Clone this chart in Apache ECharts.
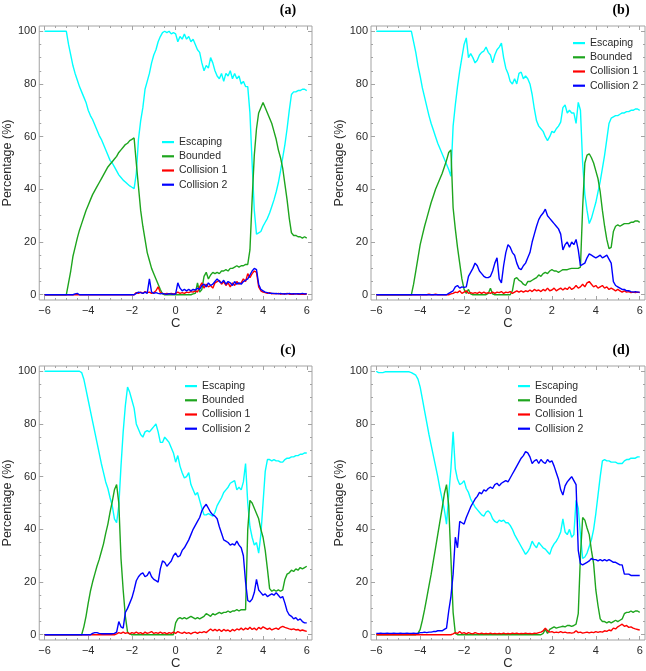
<!DOCTYPE html>
<html>
<head>
<meta charset="utf-8">
<title>Percentage vs C</title>
<script src="https://cdn.jsdelivr.net/npm/echarts@6.0.0/dist/echarts.min.js"></script>
<style>
html, body { margin: 0; padding: 0; background: #fff; }
#chart { width: 646px; height: 671px; }
</style>
</head>
<body>
<div id="chart"></div>
<script>
// sampling grid in C: -6.0 ... 6.0, step 0.1
const C = Array.from({ length: 121 }, (_, i) => Math.round((-6 + i * 0.1) * 10) / 10);

const seriesNames = ['Escaping', 'Bounded', 'Collision 1', 'Collision 2'];
const xMajor = [-6, -4, -2, 0, 2, 4, 6];
const xMinor = [-5.5, -5, -4.5, -3.5, -3, -2.5, -1.5, -1, -0.5, 0.5, 1, 1.5, 2.5, 3, 3.5, 4.5, 5, 5.5];
const yMajor = [0, 20, 40, 60, 80, 100];
const yMinor = [5, 10, 15, 25, 30, 35, 45, 50, 55, 65, 70, 75, 85, 90, 95];

// ---- panel (a)
const escA = [
  100, 100, 100, 100, 100, 100, 100, 100, 100, 100,
  100, 95, 91, 87, 84, 81.5, 79, 77, 75, 73,
  70, 68, 66.5, 64.5, 62.5, 60.5, 59, 57, 55, 53,
  51, 50, 48.5, 47, 45.5, 44.5, 43.5, 42.8, 42, 41.3,
  40.8, 40.3, 46, 59, 66, 71, 78, 81, 84, 88,
  91, 93, 96, 98, 99.5, 100, 99.5, 100, 99, 99.5,
  99, 96, 98, 97, 99, 97, 98, 96, 97, 95,
  93, 92, 88, 85, 87, 86, 90, 88, 85, 83,
  82, 84, 81, 84, 83, 85, 82, 84, 82, 83,
  80, 81, 79, 79, 69, 50, 32, 23, 23.5, 24,
  26, 27.5, 29, 31, 33.5, 36, 39, 42.5, 47, 52,
  57, 63, 70, 76, 77, 77, 77.5, 77.5, 78, 78,
  77.5
];
const bndA = [
  0, 0, 0, 0, 0, 0, 0, 0, 0, 0,
  0, 4.5, 9, 14.5, 18, 21.5, 24.5, 27, 29.5, 32,
  34, 36, 38, 39.5, 41, 42.5, 44, 45.5, 47, 48.5,
  49.5, 50.5, 51.5, 52.5, 54, 55, 56, 57, 57.5, 58.5,
  59, 59.5, 50, 41, 32, 26, 21, 16, 13, 10,
  8, 6, 4, 2, 0.3, 0, 0, 0, 0, 0,
  0, 0, 0, 0, 0, 0, 0, 0, 0.3, 0.5,
  4.5, 1, 2, 7, 8.5, 6, 7.5, 8.5, 8, 8.5,
  8, 9, 9, 9.5, 9, 10, 10, 10.5, 11, 10.5,
  11, 11, 11.5, 11.5, 17, 36, 53, 63, 69, 71,
  73, 71, 69, 67, 65, 62, 59, 55, 52, 48,
  42, 36, 29, 23.5, 22.5, 22.5, 22, 22, 21.5, 22,
  21.5
];
const col1A = [
  0, 0, 0, 0, 0, 0, 0, 0, 0, 0,
  0, 0, 0, 0, 0, 0, 0, 0, 0, 0,
  0, 0, 0, 0, 0, 0, 0, 0, 0, 0,
  0, 0, 0, 0, 0, 0, 0, 0, 0, 0,
  0, 0, 0.8, 0.5, 1, 0.5, 1.2, 0.8, 1, 0.5,
  0.8, 1.5, 3, 0.8, 0.5, 0.3, 0.5, 0.3, 0.5, 0.3,
  0.5, 1, 0.5, 0.8, 0.5, 1, 0.8, 1.2, 1, 1.5,
  1, 3, 4.5, 2.5, 4, 3, 3.5, 2.5, 4.5, 5,
  5.5, 4, 5, 3.5, 4.5, 3, 4.5, 3.5, 5, 4,
  4.5, 6, 5, 8, 6.5, 8, 9, 8.5, 3, 1.5,
  1, 0.8, 0.5, 0.8, 0.3, 0.5, 0.3, 0.5, 0.2, 0.4,
  0.2, 0.5, 0.2, 0.3, 0.2, 0.4, 0.2, 0.3, 0.2, 0.3,
  0.2
];
const col2A = [
  0, 0, 0, 0, 0, 0, 0, 0, 0, 0,
  0, 0, 0, 0, 0.3, 0.5, 0, 0, 0, 0,
  0, 0, 0, 0, 0, 0, 0, 0, 0, 0,
  0, 0, 0, 0, 0, 0, 0, 0, 0, 0,
  0, 0, 0.5, 1, 0.8, 0.5, 1, 0.5, 6, 1,
  0.5, 0.8, 0.5, 0.3, 0.5, 0.3, 0.2, 0.4, 0.3, 0.2,
  0.3, 4.5, 2.5, 1.5, 2, 1.5, 2, 1.5, 2, 1.8,
  2.5, 2, 3.5, 4, 3, 4.5, 3.5, 4, 5, 6,
  5, 4.5, 5.5, 4, 5, 4.5, 3.5, 5, 4, 4.5,
  4, 5, 5.5, 6, 7.5, 9, 10, 9.5, 4, 2,
  1.5, 1, 0.8, 0.5, 0.6, 0.4, 0.5, 0.3, 0.5, 0.3,
  0.4, 0.3, 0.5, 0.3, 0.4, 0.3, 0.4, 0.3, 0.5, 0.3,
  0.4
];

// ---- panel (b)
const escB = [
  100, 100, 100, 100, 100, 100, 100, 100, 100, 100,
  100, 100, 100, 100, 100, 100, 100, 96, 92, 87,
  83, 78.5, 75, 71.5, 68, 65, 62.5, 60, 57.5, 55.5,
  53.5, 51.5, 49.5, 47.5, 45, 64, 72, 79, 85, 90,
  95, 97.5, 90, 91.5, 90, 88, 89, 91, 92, 92.5,
  94, 92, 91, 88, 91, 93, 94, 95.5, 90, 86,
  84, 81, 80, 82, 80, 84, 84.5, 82, 83, 82,
  80, 76, 70.5, 66, 64, 63, 62, 60, 58.5, 60,
  62, 61.5, 63, 64, 65.5, 71, 72, 69, 70, 69,
  69, 65, 73, 70, 50, 38, 32, 27, 29, 32,
  35, 39, 43, 48, 53, 59, 65, 67, 67.5, 68,
  68, 68.5, 69, 69, 69.5, 69.5, 70, 70, 70.5, 70.5,
  70
];
const bndB = [
  0, 0, 0, 0, 0, 0, 0, 0, 0, 0,
  0, 0, 0, 0, 0, 0, 0, 4, 9, 14,
  19, 22.5, 26, 29, 32, 35, 37.5, 40, 42, 44,
  46, 48.5, 51, 54, 55, 33, 25, 18, 12, 6,
  2, 0.5, 2, 0.3, 0, 0, 0, 0, 0, 0,
  0, 0.5, 2.5, 0.3, 0, 0, 0, 0, 0, 0,
  0, 0, 1.5, 6, 6.5, 5.5, 5, 4, 3.5, 5,
  5, 5.5, 6, 6.5, 7.5, 7, 8, 8.5, 8, 9,
  9.5, 9, 9, 8.5, 9, 9.5, 9.5, 9.5, 9.8, 10,
  10, 10, 10, 10.5, 33, 50, 53, 53.5, 52, 50,
  47, 44, 39, 32, 26, 21, 17.5, 18, 24, 26,
  26.5, 26, 26.5, 27, 27, 27, 27.5, 27.5, 28, 28,
  27.5
];
const col1B = [
  0, 0, 0, 0, 0, 0, 0, 0, 0, 0,
  0, 0, 0, 0, 0, 0, 0, 0, 0, 0,
  0, 0, 0, 0, 0.2, 0, 0, 0.2, 0, 0,
  0, 0, 0, 0, 0.3, 0.5, 1, 0.8, 1.5, 0.5,
  1, 1.5, 0.5, 0.8, 0.5, 0.8, 0.5, 1, 0.5, 1,
  0.5, 0.8, 0.5, 1, 0.5, 1, 0.8, 1.2, 0.5, 1,
  0.8, 1.2, 0.5, 1, 1.5, 1, 1.5, 1, 1.5, 1.2,
  1.8, 1.2, 2, 1.5, 1.8, 1.2, 2, 1.5, 2.5, 1.5,
  1.8, 2.5, 1.5, 2, 2.5, 1.8, 2.5, 2, 3, 2,
  2.5, 3.5, 2.5, 3, 4, 3, 4.5, 5, 4, 3,
  3.5, 2.5, 3, 3.5, 2.5, 3, 2, 2.5, 2, 1.5,
  2, 1.5, 1, 1.5, 1, 1.2, 0.8, 1, 0.8, 1,
  0.8
];
const col2B = [
  0, 0, 0, 0, 0, 0, 0, 0, 0, 0,
  0, 0, 0, 0, 0, 0, 0, 0, 0, 0,
  0, 0, 0, 0, 0, 0, 0, 0, 0, 0,
  0, 0, 0, 0.5, 1, 1.5, 3, 3.5, 2.5, 3,
  2.8, 3, 7, 8.5, 10, 12, 11, 9, 8, 7,
  6.5, 6.5, 7, 9, 12, 14, 6, 4.5, 11, 16,
  19, 18, 16, 15, 12, 10, 9.5, 11, 12, 14,
  16, 20, 23, 26, 28.5, 30, 31, 32.5, 30, 29,
  28, 27, 26, 25, 23, 17, 19, 20, 18, 20,
  19, 21, 17, 11, 11.5, 12, 14, 15.5, 15, 14.5,
  14, 14.5, 15, 14, 14.5, 15, 13.5, 12, 5, 3.5,
  3, 2.5, 2, 2, 1.5, 1.5, 1.2, 1, 1.2, 1,
  1
];

// ---- panel (c)
const escC = [
  100, 100, 100, 100, 100, 100, 100, 100, 100, 100,
  100, 100, 100, 100, 100, 100, 100, 99.5, 97, 93,
  89, 85, 81, 77, 73, 69, 65, 61.5, 58, 55.5,
  52, 49, 44, 42.5, 49, 64, 77, 87, 94, 92,
  89, 86, 80, 78, 76, 75, 77, 77.5, 77, 78,
  79, 80, 77, 73, 73, 75, 74, 73, 71, 69,
  65.5, 68, 64, 61.5, 59.5, 60, 61.5, 57, 55, 53,
  54, 51, 48, 45.5, 45.5, 46, 45.5, 45, 46.5, 49,
  50.5, 52, 54, 55, 56, 57.5, 58, 58.5, 55, 56,
  55, 58, 65, 50, 41, 37, 34, 35, 31, 38,
  50, 62, 66.5, 66.5, 66, 66.5, 66, 66, 65.5, 65.5,
  66.5, 67, 67, 67.5, 67.5, 68, 68, 68.5, 68.5, 69,
  69
];
const bndC = [
  0, 0, 0, 0, 0, 0, 0, 0, 0, 0,
  0, 0, 0, 0, 0, 0, 0, 0, 3, 7,
  12, 16.5, 20, 23, 26, 28.5, 31.5, 34.5, 38.5, 42,
  46.5, 50.5, 55, 57, 50, 29, 17, 7, 1, 0.3,
  0, 0, 0, 0, 0, 0, 0, 0, 0, 0,
  0, 0, 0, 0, 0, 0, 0, 0, 0, 0,
  4.5, 6, 6.5, 6, 6.5, 6, 6.5, 7, 6.5, 6,
  6.5, 6, 6.5, 7, 8, 7.5, 7, 8, 7.5, 8,
  8.5, 8, 8.5, 8.5, 9, 8.5, 9, 9, 9.5, 9,
  9.5, 9.5, 9.5, 40, 51, 50, 48, 46, 44, 40,
  37, 32, 25, 17.5, 16.5, 17, 16.5, 17, 16.5, 17,
  21, 23, 23.5, 24.5, 24, 25, 24.5, 25.5, 25, 25.5,
  26
];
const col1C = [
  0, 0, 0, 0, 0, 0, 0, 0, 0, 0,
  0, 0, 0, 0, 0, 0, 0, 0, 0, 0,
  0, 0, 0, 0, 0, 0, 0, 0, 0, 0,
  0, 0, 0, 0.3, 0.8, 0.5, 1, 0.5, 0.8, 0.3,
  0.8, 0.5, 1, 0.5, 0.8, 0.3, 1, 0.5, 0.8, 1.2,
  0.5, 0.8, 0.5, 1, 0.5, 0.8, 0.3, 0.8, 0.5, 1,
  0.5, 1.2, 0.8, 0.5, 1, 0.5, 0.8, 0.3, 0.8, 1,
  0.5, 1, 0.8, 1.2, 0.8, 1.5, 2.2, 1.5, 2, 1.5,
  2, 1.2, 2, 1.5, 1.8, 1.2, 2, 1.5, 2.2, 1.8,
  2.5, 1.8, 2.5, 2, 2.8, 2, 2.5, 1.8, 2.8, 2.2,
  3, 2.5, 2, 2.5, 1.8, 2.2, 2.5, 2, 2.8, 3.2,
  2.8, 2.5, 2.2, 2, 2.2, 1.8, 2, 1.5, 1.8, 1.5,
  1.3
];
const col2C = [
  0, 0, 0, 0, 0, 0, 0, 0, 0, 0,
  0, 0, 0, 0, 0, 0, 0, 0, 0, 0,
  0, 0, 0.5, 0.8, 0.8, 0.5, 0.4, 0.4, 0.4, 0.4,
  0.4, 0.4, 0.5, 1, 5, 3, 2.5, 8.5, 10, 12,
  14, 17, 20.5, 22, 23, 23.5, 22, 22.5, 24, 22,
  21, 20.5, 20, 25, 28, 27.5, 26, 27, 28, 30,
  31, 29.5, 30, 32, 33, 34.5, 36, 38, 40, 41.5,
  43, 44.5, 47, 48.5, 49.5, 48, 46.5, 45.5, 45, 44,
  41, 38.5, 36, 35.5, 35, 34, 34.5, 34, 35.5, 34,
  33, 30, 20, 13, 12.5, 13.5, 16, 21, 17, 16,
  15, 15.5, 14.5, 15, 15.5, 15, 16, 15, 14, 14.5,
  12, 9, 7.5, 7, 6, 6.5, 5.5, 6, 5, 4.5,
  4.5
];

// ---- panel (d)
const escD = [
  100, 99.5, 99.5, 99.5, 99.8, 99.8, 99.8, 99.8, 99.8, 99.8,
  99.8, 99.8, 99.8, 99.8, 99.8, 99.8, 99.5, 99, 98.5, 97,
  94, 89.5, 85, 80.5, 76, 72, 68, 64, 60, 55.5,
  51.5, 47.5, 42, 53, 63, 77, 63, 59, 57, 57.5,
  58.5, 55.5, 54, 51.5, 50, 48.5, 47.5, 46.5, 45.5, 45,
  46.5, 47, 46, 44, 43, 42.5, 43.5, 43, 43.5, 42.5,
  42.5, 41.5, 40, 38, 36.5, 35, 33.5, 32, 30.5, 31.5,
  33, 35.5, 34, 33, 35, 34, 33, 32.5, 31.5, 30.5,
  33, 34.5, 35.5, 37, 39, 44, 39, 38, 40, 37,
  38, 51, 48, 38, 29, 29.5, 31, 33.5, 36, 40,
  46, 53, 60, 66, 66.5, 66, 66, 65.5, 65.5, 65.5,
  65, 65, 65, 66, 66.5, 66.5, 67, 67, 67, 67.5,
  67.5
];
const bndD = [
  0, 0, 0, 0, 0, 0, 0, 0, 0, 0,
  0, 0, 0, 0, 0, 0, 0, 0, 0, 0.5,
  2, 5.5, 9.5, 14, 18.5, 23, 28, 33, 38, 43,
  48, 53.5, 57, 49, 29, 8.5, 0.5, 0, 0, 0,
  0, 0, 0, 0, 0, 0, 0, 0, 0, 0,
  0, 0, 0, 0, 0, 0, 0, 0, 0, 0,
  0, 0, 0, 0, 0, 0, 0, 0, 0, 0,
  0, 0, 0, 0, 0, 0, 0.5, 2, 0.5, 2,
  2.5, 3, 2.5, 2.8, 3, 3.2, 3, 3.5, 3.5, 3.2,
  3.5, 4, 8, 30, 44.5, 43.5, 40.5, 38, 32, 27,
  17, 11, 6, 5, 5, 4.5, 5, 4.5, 5, 5.5,
  5, 5.5, 6, 8, 8.5, 8.5, 9, 8.5, 9, 9,
  8.5
];
const col1D = [
  0, 0, 0, 0, 0, 0, 0, 0, 0, 0,
  0, 0, 0, 0, 0, 0, 0, 0, 0, 0,
  0, 0, 0, 0, 0, 0, 0, 0, 0, 0,
  0, 0, 0, 0, 0, 0.3, 0.8, 0.5, 1.2, 0.5,
  0.8, 0.3, 0.8, 0.5, 0.3, 0.8, 0.5, 0.3, 0.6, 0.3,
  0.5, 0.3, 0.6, 0.3, 0.5, 0.3, 0.5, 0.3, 0.6, 0.3,
  0.5, 0.3, 0.6, 0.4, 0.6, 0.3, 0.5, 0.4, 0.6, 0.4,
  0.5, 0.3, 0.6, 0.5, 0.8, 1, 1.5, 2.5, 1.5, 1,
  1.2, 0.8, 1, 0.8, 1.2, 0.8, 1, 0.7, 0.8, 0.6,
  0.8, 1.5, 0.8, 1, 0.6, 0.8, 1, 0.7, 1, 0.8,
  1.2, 0.9, 1.2, 1, 1.5, 1.3, 1.8, 1.5, 2.5, 2.2,
  3, 3.5, 4, 3.2, 3.5, 2.8, 3, 2.5, 2.2, 2,
  1.8
];
const col2D = [
  0.5, 0.5, 0.6, 0.5, 0.5, 0.6, 0.5, 0.5, 0.6, 0.5,
  0.5, 0.6, 0.5, 0.5, 0.6, 0.5, 0.5, 0.6, 0.5, 0.5,
  0.8, 0.8, 1, 0.8, 1, 1, 1.2, 1.2, 1.5, 1.5,
  1.5, 2, 2.5, 9, 14.5, 23, 37, 33, 43, 42.5,
  42, 44.5, 46.5, 48.5, 50, 51.5, 52.5, 54, 53.5, 55,
  54.5, 55.5, 56, 55.5, 57, 57.5, 56.5, 57.5, 58, 58.5,
  58, 59.5, 61, 62.5, 64, 65.5, 67, 68, 69.5, 69,
  67.5, 65, 66, 66.5, 65, 66.5, 65.5, 65, 66.5, 65.5,
  66, 64, 61.5, 59, 55, 53, 56.5, 58, 59, 60,
  58.5, 57, 32, 27, 26.5, 27, 27.5, 28, 29, 28.5,
  28.5, 28, 28.5, 28, 28.5, 28, 28.5, 28, 27.5, 27.5,
  27, 26.5, 26.5, 23, 23, 23, 22.5, 22.5, 22.5, 22.5,
  22.5
];

const FONT = '"Liberation Sans", Arial, sans-serif';
const FRAME = '#a3a3a3';
const LABEL = '#2b2b2b';
const colors = ['#00ffff', '#1ea51e', '#ff0000', '#0000ff'];

const panels = [
  { tag: '(a)', data: [escA, bndA, col1A, col2A], grid: { left: 38, top: 26 }, legend: { left: 162, top: 135 }, tagPos: [288, 10] },
  { tag: '(b)', data: [escB, bndB, col1B, col2B], grid: { left: 371, top: 26 }, legend: { left: 573, top: 36 }, tagPos: [621, 10] },
  { tag: '(c)', data: [escC, bndC, col1C, col2C], grid: { left: 38, top: 366 }, legend: { left: 185, top: 379 }, tagPos: [288, 350] },
  { tag: '(d)', data: [escD, bndD, col1D, col2D], grid: { left: 371, top: 366 }, legend: { left: 518, top: 379 }, tagPos: [621, 350] }
];

const minus = (v) => String(v).replace('-', '\u2212');

function tickAxis(g, pos, values, len, extra) {
  return Object.assign({
    gridIndex: g,
    type: 'value',
    position: pos,
    axisLine: { show: false, onZero: false },
    splitLine: { show: false },
    axisTick: { show: true, inside: true, length: len, customValues: values, lineStyle: { color: FRAME, width: 1 } },
    axisLabel: { show: false }
  }, extra);
}

const xAxis = [];
const yAxis = [];
const grid = [];
const legend = [];
const series = [];
const graphic = [];

panels.forEach((p, g) => {
  grid.push({ left: p.grid.left, top: p.grid.top, width: 274, height: 274, show: true, borderColor: FRAME, borderWidth: 1, backgroundColor: 'transparent' });

  const xr = { min: -6.24, max: 6.24 };
  const yr = { min: -2, max: 102 };
  xAxis.push(tickAxis(g, 'bottom', xMajor, 4, Object.assign({
    axisLabel: { show: true, customValues: xMajor, margin: 5, fontSize: 11, color: LABEL, fontFamily: FONT, formatter: minus },
    name: 'C', nameLocation: 'middle', nameGap: 17,
    nameTextStyle: { fontSize: 13, color: LABEL, fontFamily: FONT }
  }, xr)));
  xAxis.push(tickAxis(g, 'bottom', xMinor, 2, xr));
  xAxis.push(tickAxis(g, 'top', xMajor, 4, xr));
  xAxis.push(tickAxis(g, 'top', xMinor, 2, xr));

  yAxis.push(tickAxis(g, 'left', yMajor, 4, Object.assign({
    axisLabel: { show: true, customValues: yMajor, margin: 3, fontSize: 11, color: LABEL, fontFamily: FONT },
    name: 'Percentage (%)', nameLocation: 'middle', nameRotate: 90, nameGap: 23,
    nameTextStyle: { fontSize: 12.5, color: LABEL, fontFamily: FONT }
  }, yr)));
  yAxis.push(tickAxis(g, 'left', yMinor, 2, yr));
  yAxis.push(tickAxis(g, 'right', yMajor, 4, yr));
  yAxis.push(tickAxis(g, 'right', yMinor, 2, yr));

  p.data.forEach((vals, k) => {
    series.push({
      name: seriesNames[k],
      type: 'line',
      xAxisIndex: g * 4,
      yAxisIndex: g * 4,
      data: C.map((c, i) => [c, vals[i]]),
      symbol: 'none',
      itemStyle: { color: colors[k] },
      lineStyle: { color: colors[k], width: 1.4 },
      emphasis: { disabled: true }
    });
  });

  legend.push({
    data: seriesNames,
    orient: 'vertical',
    left: p.legend.left,
    top: p.legend.top,
    padding: 0,
    itemGap: 0,
    itemWidth: 12,
    itemHeight: 2.2,
    icon: 'rect',
    selectedMode: false,
    textStyle: { fontSize: 10.5, lineHeight: 14.2, color: LABEL, fontFamily: FONT }
  });

  graphic.push({
    type: 'text',
    x: p.tagPos[0],
    y: p.tagPos[1],
    style: {
      text: p.tag,
      font: 'bold 14px "Liberation Serif", "DejaVu Serif", serif',
      fill: '#000',
      textAlign: 'center',
      textVerticalAlign: 'middle'
    }
  });
});

const chart = echarts.init(document.getElementById('chart'));
chart.setOption({
  animation: false,
  backgroundColor: '#fff',
  grid: grid,
  xAxis: xAxis,
  yAxis: yAxis,
  legend: legend,
  series: series,
  graphic: graphic
});

window.addEventListener('resize', () => chart.resize());
</script>
</body>
</html>
